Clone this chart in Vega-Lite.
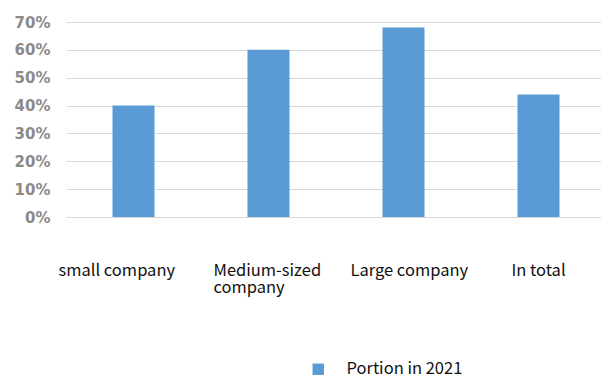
{
  "$schema": "https://vega.github.io/schema/vega-lite/v6.json",
  "width": 540,
  "height": 195,
  "autosize": "none",
  "padding": {"left": 66, "top": 22, "right": 0, "bottom": 162},
  "background": "white",
  "data": {
    "values": [
      {"group": "small company", "share": 0.40, "series": "Portion in 2021"},
      {"group": "Medium-sized company", "share": 0.60, "series": "Portion in 2021"},
      {"group": "Large company", "share": 0.68, "series": "Portion in 2021"},
      {"group": "In total", "share": 0.44, "series": "Portion in 2021"}
    ]
  },
  "mark": {"type": "bar", "clip": false},
  "encoding": {
    "x": {
      "field": "group",
      "type": "nominal",
      "sort": null,
      "title": null,
      "scale": {"paddingInner": 0.689, "paddingOuter": 0.3444},
      "axis": {
        "domain": false,
        "ticks": false,
        "labelAngle": 0,
        "labelAlign": "left",
        "labelBaseline": "alphabetic",
        "labelPadding": 58,
        "labelFont": "Noto Sans CJK SC",
        "labelFontSize": 16.5,
        "labelColor": "#111111",
        "labelLineHeight": 17,
        "labelExpr": "datum.value == 'Medium-sized company' ? ['Medium-sized', 'company'] : datum.value",
        "labelOffset": {"expr": "datum.value == 'small company' ? -75 : datum.value == 'Medium-sized company' ? -55 : datum.value == 'Large company' ? -53 : -27"}
      }
    },
    "y": {
      "field": "share",
      "type": "quantitative",
      "title": null,
      "scale": {"domain": [0, 0.7], "nice": false},
      "axis": {
        "values": [0, 0.1, 0.2, 0.3, 0.4, 0.5, 0.6, 0.7],
        "format": ".0%",
        "domain": false,
        "ticks": false,
        "labelPadding": 16,
        "labelFont": "DejaVu Sans",
        "labelFontWeight": "bold",
        "labelFontSize": 15,
        "labelColor": "#8a8a8a",
        "gridColor": "#d9d9d9",
        "gridWidth": 1
      }
    },
    "color": {
      "field": "series",
      "type": "nominal",
      "title": null,
      "scale": {"range": ["#5b9bd5"]},
      "legend": {
        "orient": "none",
        "legendX": 244,
        "legendY": 339,
        "symbolType": "square",
        "symbolSize": 130,
        "symbolStrokeWidth": 0,
        "labelFont": "Noto Sans CJK SC",
        "labelFontSize": 16.5,
        "labelColor": "#111111",
        "labelOffset": 20
      }
    }
  },
  "config": {"view": {"stroke": null}}
}
